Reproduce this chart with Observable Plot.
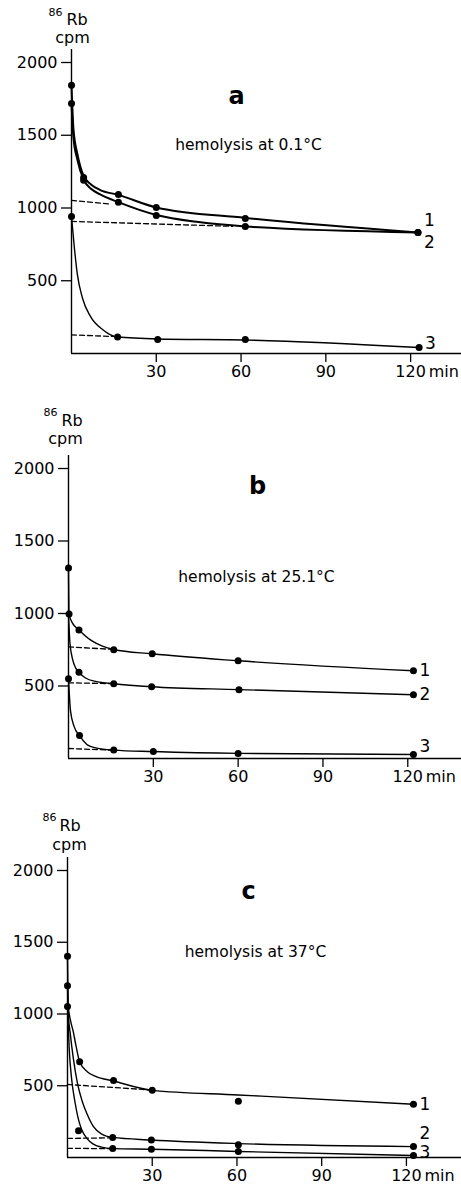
<!DOCTYPE html>
<html><head><meta charset="utf-8">
<script src="https://cdn.jsdelivr.net/npm/d3@7"></script>
<script src="https://cdn.jsdelivr.net/npm/@observablehq/plot@0.6"></script>
<style>
body{margin:0;background:#fff;}
svg{display:block;}
</style>
</head><body><div id="chart"></div>
<script>
// ---------- labels / ticks ----------
const seriesNames = ["1", "2", "3"];
const xTicks = [30, 60, 90, 120];
const yTicks = [500, 1000, 1500, 2000];
const unitLabel = "min";
const yLabelIso = "86";
const yLabelEl = "Rb";
const yLabelUnit = "cpm";
const panelLetters = ["a", "b", "c"];
const panelTitles = ["hemolysis at 0.1°C", "hemolysis at 25.1°C", "hemolysis at 37°C"];

// ---------- panel a (0.1 °C) ----------
const aPtT1 = [0, 4.3, 16.6, 30, 61.5, 122.6];
const aPtV1 = [1843, 1210, 1093, 1004, 928, 832];
const aPtT2 = [0, 4.3, 16.6, 30, 61.5, 122.6];
const aPtV2 = [1719, 1190, 1040, 949, 873, 832];
const aPtT3 = [0, 16.3, 30.5, 61.5, 123];
const aPtV3 = [942, 113, 96, 96, 41];
const aFitT1 = [0, 0.7, 2.1, 4.3, 7, 10, 16.6, 30, 61.5, 122.6];
const aFitV1 = [1843, 1540, 1370, 1220, 1160, 1125, 1090, 1004, 932, 832];
const aFitT2 = [0, 0.7, 2.1, 4.3, 7, 10, 16.6, 30, 45, 61.5, 122.6];
const aFitV2 = [1719, 1480, 1330, 1195, 1130, 1095, 1040, 952, 903, 873, 832];
const aFitT3 = [0, 1, 2.1, 3.9, 6.7, 11.3, 16.3, 30.5, 61.5, 123];
const aFitV3 = [942, 730, 540, 380, 255, 160, 113, 100, 93, 41];
const aDashT1 = [0, 14], aDashV1 = [1052, 1027];
const aDashT2 = [0, 57], aDashV2 = [908, 874];
const aDashT3 = [0, 16], aDashV3 = [128, 116];

// ---------- panel b (25.1 °C) ----------
const bPtT1 = [0, 0.2, 3.7, 16, 29.6, 60, 122];
const bPtV1 = [1314, 997, 887, 750, 722, 674, 605];
const bPtT2 = [3.7, 16, 29.4, 60.3, 122];
const bPtV2 = [595, 516, 495, 475, 440];
const bPtT3 = [0, 3.9, 16, 30, 60, 122];
const bPtV3 = [550, 158, 58, 48, 34, 28];
const bFitT1 = [0, 0.2, 1.3, 3.7, 8.3, 12, 16, 29.6, 60, 122];
const bFitV1 = [1314, 997, 937, 887, 811, 775, 752, 722, 674, 605];
const bFitT2 = [0, 0.5, 1.5, 2.5, 3.7, 6, 10, 16, 29.4, 60.3, 122];
const bFitV2 = [997, 800, 680, 625, 595, 555, 530, 516, 495, 475, 440];
const bFitT3 = [0, 0.7, 2, 3.9, 7, 10, 16, 30, 60, 122];
const bFitV3 = [550, 330, 220, 158, 90, 72, 58, 48, 35, 28];
const bDashT1 = [0, 16], bDashV1 = [770, 752];
const bDashT2 = [0, 16], bDashV2 = [522, 516];
const bDashT3 = [0, 15], bDashV3 = [69, 58];

// ---------- panel c (37 °C) ----------
const cPtT1 = [0, 4.3, 16.3, 30, 60.5, 122.5];
const cPtV1 = [1403, 667, 536, 468, 392, 371];
const cPtT2 = [0, 3.9, 16, 29.7, 60.5, 122.5];
const cPtV2 = [1197, 186, 140, 122, 89, 76];
const cPtT3 = [0, 16, 29.7, 60.5, 122.5];
const cPtV3 = [1052, 62, 58, 42, 14];
const cFitT1 = [0, 0.3, 1, 2, 3, 4.3, 7, 10, 16.3, 30, 60.5, 122.5];
const cFitV1 = [1403, 1050, 960, 880, 780, 667, 598, 565, 533, 468, 436, 371];
const cFitT2 = [0, 0.3, 1, 2, 3.5, 5.2, 7, 9.2, 12, 16, 29.7, 60.5, 122.5];
const cFitV2 = [1197, 1000, 860, 700, 520, 392, 300, 215, 165, 140, 122, 97, 76];
const cFitT3 = [0, 0.2, 0.6, 1.5, 2.6, 3.7, 4.9, 7, 9, 12, 16, 29.7, 60.5, 122.5];
const cFitV3 = [1052, 950, 760, 540, 392, 280, 200, 130, 95, 72, 62, 58, 42, 14];
const cDashT1 = [0, 30], cDashV1 = [509, 470];
const cDashT2 = [0, 16], cDashV2 = [133, 137];
const cDashT3 = [0, 16], cDashV3 = [64, 61];

// ---------- build tables ----------
function rows(list) {
  const out = [];
  list.forEach(([ts, vs], i) => ts.forEach((t, j) => out.push({t, v: vs[j], s: seriesNames[i]})));
  return out;
}
const FONT = "DejaVu Sans";

const panels = [
  {
    pts: rows([[aPtT1, aPtV1], [aPtT2, aPtV2], [aPtT3, aPtV3]]),
    fit: rows([[aFitT1, aFitV1], [aFitT2, aFitV2], [aFitT3, aFitV3]]),
    dash: rows([[aDashT1, aDashV1], [aDashT2, aDashV2], [aDashT3, aDashV3]]),
    height: 405, mt: 62, mb: 52, ml: 71, xmax: 138,
    widths: [2, 2, 1.4],
    labelDy: [-12, 10, -4],
    letter: {dx: 165, dy: 34}, title: {dx: 177, dy: 83},
    rb: {dx: -5, dy: -43}, iso: {dx: -9, dy: -50}, cpm: {dx: 1, dy: -25}
  },
  {
    pts: rows([[bPtT1, bPtV1], [bPtT2, bPtV2], [bPtT3, bPtV3]]),
    fit: rows([[bFitT1, bFitV1], [bFitT2, bFitV2], [bFitT3, bFitV3]]),
    dash: rows([[bDashT1, bDashV1], [bDashT2, bDashV2], [bDashT3, bDashV3]]),
    height: 405, mt: 63, mb: 52, ml: 68, xmax: 139,
    widths: [1.4, 1.4, 1.4],
    labelDy: [0, 0, -8],
    letter: {dx: 189, dy: 18}, title: {dx: 188, dy: 109},
    rb: {dx: -7, dy: -48}, iso: {dx: -11, dy: -56}, cpm: {dx: -3, dy: -30}
  },
  {
    pts: rows([[cPtT1, cPtV1], [cPtT2, cPtV2], [cPtT3, cPtV3]]),
    fit: rows([[cFitT1, cFitV1], [cFitT2, cFitV2], [cFitT3, cFitV3]]),
    dash: rows([[cDashT1, cDashV1], [cDashT2, cDashV2], [cDashT3, cDashV3]]),
    height: 383, mt: 60, mb: 36, ml: 67, xmax: 139.5,
    widths: [1.4, 1.4, 1.4],
    labelDy: [0, -13, -3],
    letter: {dx: 181, dy: 21}, title: {dx: 188, dy: 82},
    rb: {dx: -8, dy: -45}, iso: {dx: -11, dy: -53}, cpm: {dx: 2, dy: -26}
  }
];

const root = document.getElementById("chart");
panels.forEach((p, k) => {
  const lastPts = seriesNames.map(s => {
    const r = p.pts.filter(d => d.s === s);
    return r[r.length - 1];
  });
  const marks = [
    Plot.ruleX([0], {y1: 0, y2: 2090, stroke: "black", strokeWidth: 1.4}),
    Plot.ruleY([0], {x1: 0, x2: p.xmax, stroke: "black", strokeWidth: 1.4}),
    Plot.axisY({ticks: yTicks, tickFormat: d => String(d), tickSize: 10, tickPadding: 4, fontSize: 16, label: null, strokeWidth: 1.3}),
    Plot.axisX({ticks: xTicks, tickFormat: d => String(d), tickSize: 9, tickPadding: 3, fontSize: 16, label: null, strokeWidth: 1.3}),
    Plot.text([unitLabel], {x: () => xTicks[xTicks.length - 1], frameAnchor: "bottom", dy: 12, dx: 18, textAnchor: "start", lineAnchor: "top", fontSize: 16}),
    Plot.line(p.dash, {x: "t", y: "v", z: "s", stroke: "black", strokeWidth: 1.3, strokeDasharray: "5,3"}),
    ...seriesNames.map((s, i) => Plot.line(p.fit.filter(d => d.s === s), {x: "t", y: "v", curve: "monotone-x", stroke: "black", strokeWidth: p.widths[i]})),
    Plot.dot(p.pts, {x: "t", y: "v", r: 3.5, fill: "black", stroke: "none"}),
    ...seriesNames.map((s, i) => Plot.text([lastPts[i]], {x: "t", y: "v", text: "s", dx: 6, dy: p.labelDy[i], textAnchor: "start", fontSize: 17})),
    Plot.text([panelLetters[k]], {frameAnchor: "top-left", dx: p.letter.dx, dy: p.letter.dy, textAnchor: "middle", lineAnchor: "middle", fontSize: 24, fontWeight: "bold"}),
    Plot.text([panelTitles[k]], {frameAnchor: "top-left", dx: p.title.dx, dy: p.title.dy, textAnchor: "middle", lineAnchor: "middle", fontSize: 15.5}),
    Plot.text([yLabelEl], {frameAnchor: "top-left", dx: p.rb.dx, dy: p.rb.dy, textAnchor: "start", lineAnchor: "middle", fontSize: 16}),
    Plot.text([yLabelIso], {frameAnchor: "top-left", dx: p.iso.dx, dy: p.iso.dy, textAnchor: "end", lineAnchor: "middle", fontSize: 11}),
    Plot.text([yLabelUnit], {frameAnchor: "top-left", dx: p.cpm.dx, dy: p.cpm.dy, textAnchor: "middle", lineAnchor: "middle", fontSize: 16})
  ];
  const chart = Plot.plot({
    width: 461,
    height: p.height,
    marginTop: p.mt,
    marginBottom: p.mb,
    marginLeft: p.ml,
    marginRight: 0,
    style: {fontFamily: FONT, color: "black", background: "white", overflow: "visible"},
    x: {domain: [0, p.xmax], axis: null},
    y: {domain: [0, 2000], axis: null},
    marks
  });
  root.appendChild(chart);
});
</script>
</body></html>
